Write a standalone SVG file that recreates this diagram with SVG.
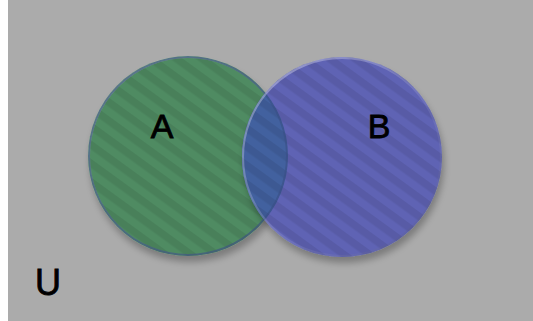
<svg xmlns="http://www.w3.org/2000/svg" width="533" height="321" viewBox="0 0 533 321">
  <defs>
    <style>
      .lbl { font-family: "Liberation Sans", Arial, sans-serif; font-size: 34px; fill: #000; stroke: #000; stroke-width: 0.8px; text-anchor: middle; }
      .stripes { fill: url(#stripes); }
    </style>
    <pattern id="stripes" patternUnits="userSpaceOnUse" width="15" height="15" patternTransform="rotate(36)">
      <rect x="0" y="0" width="15" height="7.5" fill="#000" fill-opacity="0.08"/>
    </pattern>
    <linearGradient id="rim" x1="0" y1="0" x2="1" y2="1">
      <stop offset="0" stop-color="#fff" stop-opacity="0.4"/>
      <stop offset="0.6" stop-color="#fff" stop-opacity="0.08"/>
      <stop offset="1" stop-color="#000" stop-opacity="0.15"/>
    </linearGradient>
    <filter id="shadow" x="-20%" y="-20%" width="140%" height="140%">
      <feGaussianBlur in="SourceAlpha" stdDeviation="3.5"/>
      <feOffset dx="2" dy="6" result="b"/>
      <feComponentTransfer><feFuncA type="linear" slope="0.28"/></feComponentTransfer>
      <feMerge><feMergeNode/><feMergeNode in="SourceGraphic"/></feMerge>
    </filter>
    <clipPath id="clipA"><circle cx="188" cy="156" r="100"/></clipPath>
  </defs>
  <rect x="0" y="0" width="533" height="321" fill="#ffffff"/>
  <rect x="8" y="0" width="525" height="321" fill="#ababab"/>
  <g id="setA">
    <circle cx="188" cy="156" r="100" fill="#4f8b62" filter="url(#shadow)"/>
    <circle class="stripes" cx="188" cy="156" r="100"/>
    <circle cx="188" cy="156" r="99" fill="none" stroke="url(#rim)" stroke-width="2"/>
    <text class="lbl" x="162" y="138">A</text>
  </g>
  <g id="setB">
    <circle cx="342" cy="157" r="100" fill="#5e64b4" filter="url(#shadow)"/>
    <circle class="stripes" cx="342" cy="157" r="100"/>
    <g clip-path="url(#clipA)">
      <circle cx="342" cy="157" r="100" fill="#42619f"/>
      <circle class="stripes" cx="342" cy="157" r="100"/>
      <circle cx="188" cy="156" r="99" fill="none" stroke="#3a4f86" stroke-opacity="0.6" stroke-width="2"/>
    </g>
    <circle cx="342" cy="157" r="99" fill="none" stroke="url(#rim)" stroke-width="2"/>
    <text class="lbl" x="379" y="138">B</text>
  </g>
  <g id="universe">
    <text class="lbl" x="48" y="295" style="font-size:36px">U</text>
  </g>
  <g id="connectors"/>
</svg>
